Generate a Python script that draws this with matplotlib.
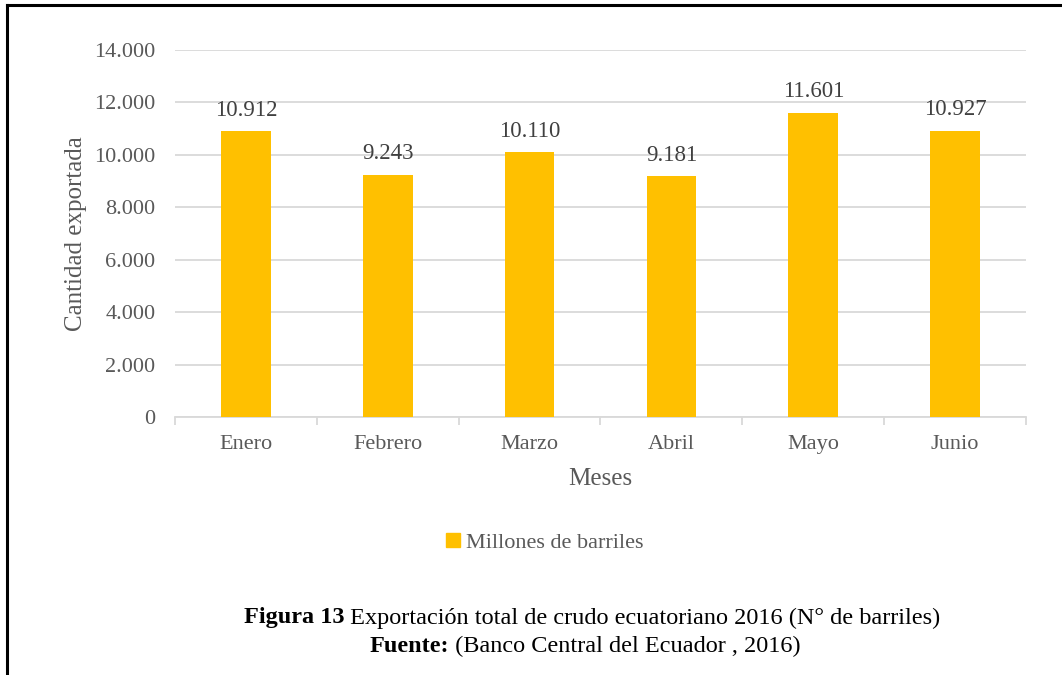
import matplotlib
matplotlib.use("Agg")
import matplotlib.pyplot as plt
from matplotlib.patches import Patch
from matplotlib.lines import Line2D

months = ["Enero", "Febrero", "Marzo", "Abril", "Mayo", "Junio"]
values = [10912, 9243, 10110, 9181, 11601, 10927]
labels = ["10.912", "9.243", "10.110", "9.181", "11.601", "10.927"]
yticks = [0, 2000, 4000, 6000, 8000, 10000, 12000, 14000]
ytick_labels = ["0", "2.000", "4.000", "6.000", "8.000", "10.000", "12.000", "14.000"]

plt.rcParams['font.family'] = ['Liberation Serif', 'DejaVu Serif']

W, H = 1062, 675
fig = plt.figure(figsize=(W/100, H/100), dpi=100)
ax = fig.add_axes([175/W, 1-417/H, (1026-175)/W, (417-50)/H])

bar_color = "#FFC000"
gray = "#595959"
grid = "#D9D9D9"

x = list(range(len(months)))
ax.bar(x, values, width=0.35, color=bar_color, zorder=3)
for xi, v, lab in zip(x, values, labels):
    ax.annotate(lab, (xi, v), xytext=(0, 7.5), textcoords="offset points",
                ha="center", va="bottom", fontsize=16.5, color="#404040")

ax.set_xlim(-0.5, 5.5)
ax.set_ylim(0, 14000)
ax.set_yticks(yticks)
ax.set_yticklabels(ytick_labels)
ax.yaxis.grid(True, color=grid, linewidth=1.3, zorder=0)
ax.set_axisbelow(True)
for s in ["top", "right", "left"]:
    ax.spines[s].set_visible(False)
ax.spines["bottom"].set_color(grid)
ax.spines["bottom"].set_linewidth(1.3)
ax.tick_params(axis="y", length=0, pad=14, labelsize=16, labelcolor=gray)
ax.set_xticks([i - 0.5 for i in range(7)], minor=False)
ax.set_xticklabels([""] * 7)
ax.tick_params(axis="x", which="major", length=6, color=grid, width=1.3)
ax.set_xticks(x, minor=True)
ax.set_xticklabels(months, minor=True)
ax.tick_params(axis="x", which="minor", length=0, pad=13, labelsize=16, labelcolor=gray)

ax.set_ylabel("Cantidad exportada", fontsize=18, color=gray, labelpad=5)
ax.set_xlabel("Meses", fontsize=18, color=gray, labelpad=10)

fig.legend(handles=[Patch(color=bar_color)], labels=["Millones de barriles"],
           loc="center", bbox_to_anchor=(545/W, 1-543/H), frameon=False,
           fontsize=16, labelcolor=gray, handlelength=0.6, handleheight=0.6,
           handletextpad=0.3)

# caption lines: bold part + regular part, centered together
renderer = fig.canvas.get_renderer()
def caption(cx, cy, bold, rest, fs=17.5):
    t1 = fig.text(0, 1-cy/H, bold, fontsize=fs, fontweight="bold", va="center", ha="left", color="black")
    t2 = fig.text(0, 1-cy/H, rest, fontsize=fs, va="center", ha="left", color="black")
    w1 = t1.get_window_extent(renderer).width
    w2 = t2.get_window_extent(renderer).width
    left = cx - (w1 + w2) / 2
    t1.set_x(left / W)
    t2.set_x((left + w1) / W)

caption(592, 618, "Figura 13", " Exportación total de crudo ecuatoriano 2016 (N° de barriles)")
caption(585, 646, "Fuente:", " (Banco Central del Ecuador , 2016)")

# frame lines
fig.add_artist(Line2D([7/W, 7/W], [0, 1-5/H], color="black", linewidth=2.2, transform=fig.transFigure))
fig.add_artist(Line2D([7/W, 1], [1-5/H, 1-5/H], color="black", linewidth=2.2, transform=fig.transFigure))

fig.savefig("out.png", dpi=100)
